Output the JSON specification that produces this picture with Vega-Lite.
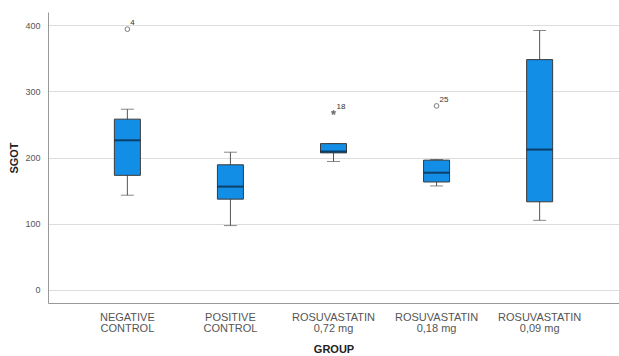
{
  "$schema": "https://vega.github.io/schema/vega-lite/v6.json",
  "width": 571,
  "height": 291,
  "autosize": "none",
  "padding": {"left": 48, "top": 12, "right": 0, "bottom": 53},
  "background": "white",
  "config": {
    "view": {"stroke": null},
    "font": "Liberation Sans",
    "axis": {"labelFont": "Liberation Sans", "titleFont": "Liberation Sans"}
  },
  "datasets": {
    "boxes": [
      {"group": "NEGATIVE CONTROL", "lower": 143, "q1": 173, "median": 226, "q3": 258, "upper": 273},
      {"group": "POSITIVE CONTROL", "lower": 97, "q1": 137, "median": 156, "q3": 189, "upper": 208},
      {"group": "ROSUVASTATIN 0,72 mg", "lower": 194, "q1": 207, "median": 209, "q3": 221, "upper": 221},
      {"group": "ROSUVASTATIN 0,18 mg", "lower": 157, "q1": 163, "median": 177, "q3": 196, "upper": 197},
      {"group": "ROSUVASTATIN 0,09 mg", "lower": 105, "q1": 133, "median": 212, "q3": 348, "upper": 392}
    ],
    "outliers": [
      {"group": "NEGATIVE CONTROL", "value": 394, "case": "4", "kind": "outlier"},
      {"group": "ROSUVASTATIN 0,72 mg", "value": 268, "case": "18", "kind": "extreme"},
      {"group": "ROSUVASTATIN 0,18 mg", "value": 278, "case": "25", "kind": "outlier"}
    ]
  },
  "encoding": {
    "x": {
      "field": "group",
      "type": "nominal",
      "sort": null,
      "scale": {"paddingOuter": 0.27, "paddingInner": 0},
      "axis": {
        "title": "GROUP",
        "titleFontSize": 11,
        "titleFontWeight": "bold",
        "titleColor": "#222",
        "titlePadding": 10,
        "labelAngle": 0,
        "labelFontSize": 11,
        "labelColor": "#555",
        "labelPadding": 8,
        "labelLineHeight": 11,
        "labelExpr": "indexof(datum.value,'ROSUVASTATIN')==0 ? ['ROSUVASTATIN', substring(datum.value,13)] : split(datum.value,' ')",
        "ticks": false,
        "domainColor": "#999",
        "grid": false
      }
    }
  },
  "layer": [
    {
      "data": {"name": "boxes"},
      "mark": {"type": "rule", "color": "#555", "strokeWidth": 1},
      "encoding": {
        "y": {
          "field": "lower",
          "type": "quantitative",
          "scale": {"domain": [-20, 420], "nice": false, "zero": false},
          "axis": {
            "title": "SGOT",
            "titleFontSize": 11,
            "titleFontWeight": "bold",
            "titleColor": "#222",
            "titlePadding": 5,
            "values": [0, 100, 200, 300, 400],
            "labelFontSize": 9,
            "labelColor": "#555",
            "labelPadding": 8,
            "ticks": false,
            "domainColor": "#999",
            "gridColor": "#ddd",
            "gridWidth": 1
          }
        },
        "y2": {"field": "upper"}
      }
    },
    {
      "data": {"name": "boxes"},
      "mark": {"type": "tick", "color": "#555", "size": 13, "thickness": 1, "orient": "horizontal"},
      "encoding": {"y": {"field": "lower", "type": "quantitative"}}
    },
    {
      "data": {"name": "boxes"},
      "mark": {"type": "tick", "color": "#555", "size": 13, "thickness": 1, "orient": "horizontal"},
      "encoding": {"y": {"field": "upper", "type": "quantitative"}}
    },
    {
      "data": {"name": "boxes"},
      "mark": {"type": "bar", "size": 26, "color": "#138ee6", "stroke": "#3a3a3a", "strokeWidth": 1},
      "encoding": {
        "y": {"field": "q1", "type": "quantitative"},
        "y2": {"field": "q3"}
      }
    },
    {
      "data": {"name": "boxes"},
      "mark": {"type": "tick", "color": "#0b1f33", "size": 26, "thickness": 2, "orient": "horizontal"},
      "encoding": {"y": {"field": "median", "type": "quantitative"}}
    },
    {
      "data": {"name": "outliers"},
      "mark": {"type": "point", "filled": false, "size": 22, "strokeWidth": 1},
      "encoding": {
        "y": {"field": "value", "type": "quantitative"},
        "shape": {
          "field": "kind",
          "type": "nominal",
          "scale": {"domain": ["outlier", "extreme"], "range": ["circle", "M0,-1L0.29,-0.4L0.95,-0.31L0.48,0.15L0.59,0.81L0,0.5L-0.59,0.81L-0.48,0.15L-0.95,-0.31L-0.29,-0.4Z"]},
          "legend": null
        },
        "color": {"value": "#444"},
        "fill": {
          "field": "kind",
          "type": "nominal",
          "scale": {"domain": ["outlier", "extreme"], "range": ["transparent", "#333"]},
          "legend": null
        }
      }
    },
    {
      "data": {"name": "outliers"},
      "mark": {"type": "text", "align": "left", "dx": 3, "dy": -6, "fontSize": 8, "fill": "#333"},
      "encoding": {
        "y": {"field": "value", "type": "quantitative"},
        "text": {"field": "case"}
      }
    }
  ]
}
